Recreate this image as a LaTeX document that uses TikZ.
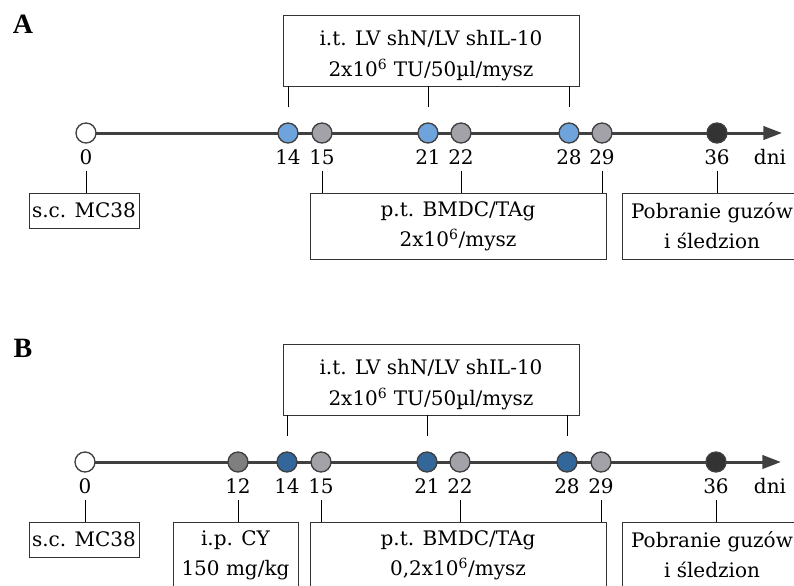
\documentclass[tikz,border=0pt]{standalone}
\usepackage{fontspec}
\setmainfont{DejaVu Serif}
\newfontfamily\panelfont{Liberation Serif}
\usetikzlibrary{arrows.meta,backgrounds}
\definecolor{axisgray}{HTML}{404040}
\definecolor{lvblue}{HTML}{6FA3DC}
\definecolor{lvdark}{HTML}{336699}
\definecolor{bmdcgray}{HTML}{A2A2A8}
\definecolor{cygray}{HTML}{7F7F7F}
\definecolor{endgray}{HTML}{333333}

\begin{document}
\begin{tikzpicture}[x=0.75pt, y=-0.75pt,
  font=\fontsize{15}{22.5}\selectfont,
  panel/.style={font=\panelfont\bfseries\fontsize{21}{24}\selectfont},
  dot/.style={circle, draw=axisgray, line width=1pt, minimum size=15pt, inner sep=0pt},
  infobox/.style={draw=black!80, line width=0.6pt, align=center, inner sep=0pt},
  widebox/.style={infobox, minimum width=222pt, minimum height=49.5pt},
  axis/.style={line width=2.25pt, draw=axisgray, -{Triangle[length=14pt,width=10pt]}},
  tickup/.style={line width=0.6pt, shorten <=11.25pt},
  tickdown/.style={line width=0.6pt, shorten <=20.25pt},
  daynum/.style={inner sep=0pt}]
  \useasboundingbox (0,0) rectangle (794,586);
  \clip (0,0) rectangle (794,586);

  % ---------- Panel A ----------
  \node[panel] (labA) at (23,24) {A};
  % days on the time line
  \node[dot, fill=white]    (d0A)  at (86,133)  {};
  \node[dot, fill=lvblue]   (d14A) at (288,133) {};
  \node[dot, fill=bmdcgray] (d15A) at (322,133) {};
  \node[dot, fill=lvblue]   (d21A) at (428,133) {};
  \node[dot, fill=bmdcgray] (d22A) at (461,133) {};
  \node[dot, fill=lvblue]   (d28A) at (569,133) {};
  \node[dot, fill=bmdcgray] (d29A) at (602,133) {};
  \node[dot, fill=endgray]  (d36A) at (717,133) {};
  \coordinate (tipA) at (782,133);
  \begin{scope}[on background layer]
    \draw[axis] (d0A.center) -- (tipA);
  \end{scope}
  % day numbers
  \node[daynum] (n0A)  at (86,157)  {0};
  \node[daynum] (n14A) at (288,157) {14};
  \node[daynum] (n15A) at (322,157) {15};
  \node[daynum] (n21A) at (428,157) {21};
  \node[daynum] (n22A) at (461,157) {22};
  \node[daynum] (n28A) at (569,157) {28};
  \node[daynum] (n29A) at (602,157) {29};
  \node[daynum] (n36A) at (717,157) {36};
  \node[daynum] (dniA) at (770,157) {dni};
  % boxes
  \node[infobox, minimum width=222pt, minimum height=53.25pt] (itA) at (431,50.5)
    {\rule{0pt}{19pt}i.t. LV shN/LV shIL-10\\[1pt]2x10\textsuperscript{6} TU/50µl/mysz};
  \node[infobox, minimum width=82.5pt, minimum height=26.25pt] (scA) at (84,210.5) {s.c. MC38};
  \node[widebox] (ptA) at (458,226) {p.t. BMDC/TAg\\2x10\textsuperscript{6}/mysz};
  \node[infobox, minimum width=135pt, minimum height=49.5pt] (pobA) at (712,226)
    {Pobranie guzów\\i śledzion};
  % ticks
  \draw[tickup] (d14A.north) -- (d14A.north |- itA.south);
  \draw[tickup] (d21A.north) -- (d21A.north |- itA.south);
  \draw[tickup] (d28A.north) -- (d28A.north |- itA.south);
  \draw[tickdown] (d0A.south)  -- (d0A.south |- scA.north);
  \draw[tickdown] (d15A.south) -- (d15A.south |- ptA.north);
  \draw[tickdown] (d22A.south) -- (d22A.south |- ptA.north);
  \draw[tickdown] (d29A.south) -- (d29A.south |- ptA.north);
  \draw[tickdown] (d36A.south) -- (d36A.south |- pobA.north);

  % ---------- Panel B ----------
  \node[panel] (labB) at (23,348) {B};
  % days on the time line
  \node[dot, fill=white]    (d0B)  at (85,462)  {};
  \node[dot, fill=cygray]   (d12B) at (238,462) {};
  \node[dot, fill=lvdark]   (d14B) at (287,462) {};
  \node[dot, fill=bmdcgray] (d15B) at (321,462) {};
  \node[dot, fill=lvdark]   (d21B) at (427,462) {};
  \node[dot, fill=bmdcgray] (d22B) at (460,462) {};
  \node[dot, fill=lvdark]   (d28B) at (567,462) {};
  \node[dot, fill=bmdcgray] (d29B) at (601,462) {};
  \node[dot, fill=endgray]  (d36B) at (716,462) {};
  \coordinate (tipB) at (781,462);
  \begin{scope}[on background layer]
    \draw[axis] (d0B.center) -- (tipB);
  \end{scope}
  % day numbers
  \node[daynum] (n0B)  at (85,486)  {0};
  \node[daynum] (n12B) at (238,486) {12};
  \node[daynum] (n14B) at (287,486) {14};
  \node[daynum] (n15B) at (321,486) {15};
  \node[daynum] (n21B) at (427,486) {21};
  \node[daynum] (n22B) at (460,486) {22};
  \node[daynum] (n28B) at (567,486) {28};
  \node[daynum] (n29B) at (601,486) {29};
  \node[daynum] (n36B) at (716,486) {36};
  \node[daynum] (dniB) at (770,486) {dni};
  % boxes
  \node[infobox, minimum width=222pt, minimum height=53.25pt] (itB) at (431,379.5)
    {\rule{0pt}{19pt}i.t. LV shN/LV shIL-10\\[1pt]2x10\textsuperscript{6} TU/50µl/mysz};
  \node[infobox, minimum width=82.5pt, minimum height=26.25pt] (scB) at (84,539.5) {s.c. MC38};
  \node[infobox, minimum width=93.75pt, minimum height=49.5pt] (cyB) at (235.5,555)
    {i.p. CY\\150 mg/kg};
  \node[widebox] (ptB) at (458,555) {p.t. BMDC/TAg\\0,2x10\textsuperscript{6}/mysz};
  \node[infobox, minimum width=135pt, minimum height=49.5pt] (pobB) at (712,555)
    {Pobranie guzów\\i śledzion};
  % ticks
  \draw[tickup] (d14B.north) -- (d14B.north |- itB.south);
  \draw[tickup] (d21B.north) -- (d21B.north |- itB.south);
  \draw[tickup] (d28B.north) -- (d28B.north |- itB.south);
  \draw[tickdown] (d0B.south)  -- (d0B.south |- scB.north);
  \draw[tickdown] (d12B.south) -- (d12B.south |- cyB.north);
  \draw[tickdown] (d15B.south) -- (d15B.south |- ptB.north);
  \draw[tickdown] (d22B.south) -- (d22B.south |- ptB.north);
  \draw[tickdown] (d29B.south) -- (d29B.south |- ptB.north);
  \draw[tickdown] (d36B.south) -- (d36B.south |- pobB.north);
\end{tikzpicture}
\end{document}
